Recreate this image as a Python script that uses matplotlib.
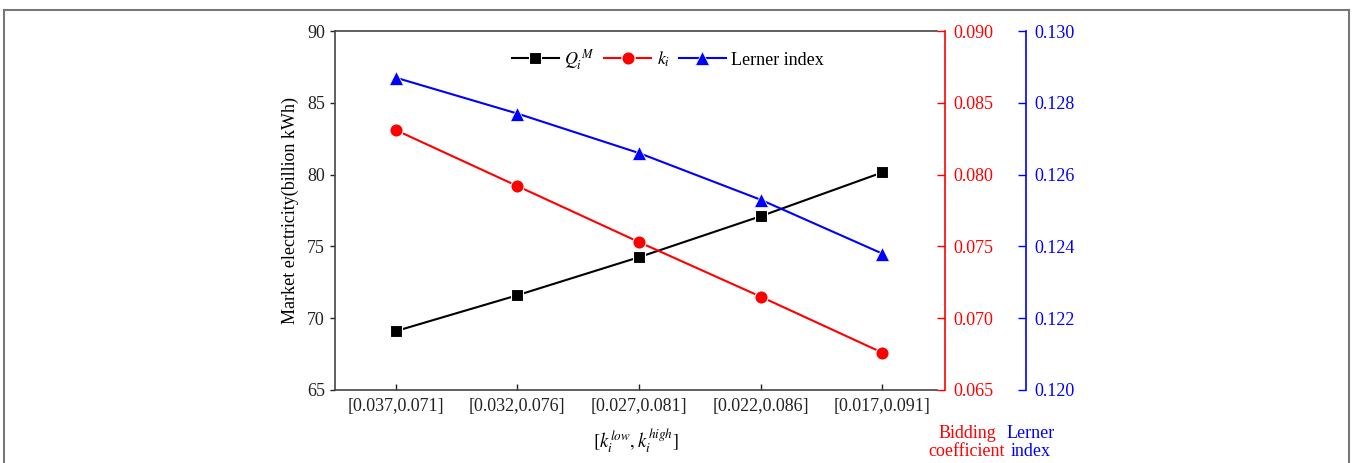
import matplotlib
matplotlib.use("Agg")
import matplotlib.pyplot as plt
from matplotlib.lines import Line2D

categories = ["[0.037,0.071]", "[0.032,0.076]", "[0.027,0.081]", "[0.022,0.086]", "[0.017,0.091]"]
market_q = [69.1, 71.6, 74.25, 77.1, 80.15]
bid_k = [0.0831, 0.0792, 0.0753, 0.0715, 0.0676]
lerner = [0.1287, 0.1277, 0.1266, 0.1253, 0.1238]

plt.rcParams['font.family'] = ['Liberation Serif', 'DejaVu Serif']
plt.rcParams['mathtext.fontset'] = 'stix'

PX = 72 / 100  # points per pixel

fig = plt.figure(figsize=(13.52, 4.63), dpi=100)
ax = fig.add_axes([335/1352, 1-390/463, (937-335)/1352, (390-31)/463])
x = list(range(len(categories)))

l1, = ax.plot(x, market_q, color='black', lw=1.5, marker='s', ms=8.5,
              mec='white', mew=0.8, label=r'$Q_i^{\ M}$')
ax.set_ylim(65, 90)
ax.set_yticks([65, 70, 75, 80, 85, 90])
ax.set_xlim(-0.5, 4.45)
ax.set_xticks(x)
ax.set_xticklabels(categories)
ax.tick_params(axis='y', direction='out', length=5*PX, width=1, labelsize=13, pad=5*PX, colors='#222222')
ax.tick_params(axis='x', direction='in', length=6*PX, width=1, labelsize=13, pad=8*PX, colors='#222222')
ax.spines['right'].set_visible(False)
for s in ['left', 'top', 'bottom']:
    ax.spines[s].set_color('#444444')
    ax.spines[s].set_linewidth(1.2)
ax.set_ylabel('Market electricity(billion kWh)', fontsize=13, labelpad=6)
ax.set_xlabel(r'$[k_i^{low},k_i^{high}]$', fontsize=13.5, labelpad=8)

ax2 = ax.twinx()
l2, = ax2.plot(x, bid_k, color='red', lw=1.5, marker='o', ms=9.5,
               mec='white', mew=0.8, label=r'$k_i$')
ax2.set_ylim(0.065, 0.090)
ax2.set_yticks([0.065, 0.070, 0.075, 0.080, 0.085, 0.090])
ax2.set_yticklabels([f"{v:.3f}" for v in [0.065, 0.070, 0.075, 0.080, 0.085, 0.090]])
ax2.spines['right'].set_position(('outward', 8*PX))
ax2.spines['right'].set_color('red')
ax2.spines['right'].set_linewidth(1.2)
for s in ['left', 'top', 'bottom']:
    ax2.spines[s].set_visible(False)
ax2.tick_params(axis='y', direction='in', length=8*PX, width=1, colors='red', labelsize=13, pad=8*PX)

ax3 = ax.twinx()
l3, = ax3.plot(x, lerner, color='blue', lw=1.5, marker='^', ms=10,
               mec='white', mew=0.5, label='Lerner index')
ax3.set_ylim(0.120, 0.130)
ax3.set_yticks([0.120, 0.122, 0.124, 0.126, 0.128, 0.130])
ax3.set_yticklabels([f"{v:.3f}" for v in [0.120, 0.122, 0.124, 0.126, 0.128, 0.130]])
ax3.spines['right'].set_position(('outward', 89*PX))
ax3.spines['right'].set_color('blue')
ax3.spines['right'].set_linewidth(1.2)
for s in ['left', 'top', 'bottom']:
    ax3.spines[s].set_visible(False)
ax3.tick_params(axis='y', direction='in', length=8*PX, width=1, colors='blue', labelsize=13, pad=8*PX)

leg = ax.legend(handles=[l1, l2, l3], loc='upper center', bbox_to_anchor=(0.553, 1.0),
                ncol=3, frameon=False, fontsize=13, handlelength=2.6,
                columnspacing=0.5, handletextpad=0.3)

fig.text(967/1352, 1-425/463, 'Bidding\ncoefficient', color='red', fontsize=13,
         ha='center', va='top', linespacing=1.1)
fig.text(1031/1352, 1-425/463, 'Lerner\nindex', color='blue', fontsize=13,
         ha='center', va='top', linespacing=1.1)

# frame of the original figure
c = '#777777'
fig.add_artist(Line2D([4/1352, 1349/1352], [1-10/463, 1-10/463], color=c, lw=1.5, transform=fig.transFigure))
fig.add_artist(Line2D([4/1352, 4/1352], [0, 1-10/463], color=c, lw=1.5, transform=fig.transFigure))
fig.add_artist(Line2D([1349/1352, 1349/1352], [0, 1-10/463], color=c, lw=1.5, transform=fig.transFigure))

fig.savefig('out.png', dpi=100)
